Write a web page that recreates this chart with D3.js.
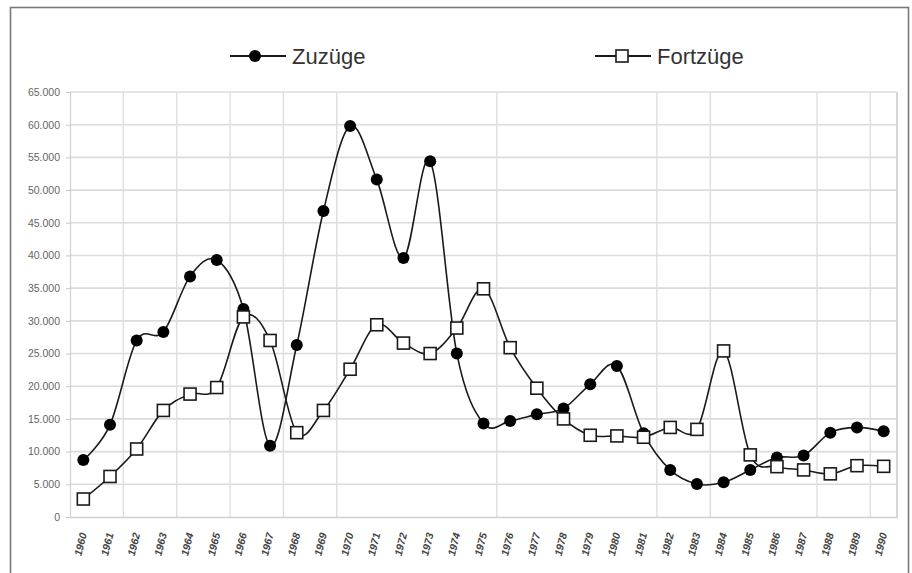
<!DOCTYPE html>
<html>
<head>
<meta charset="utf-8">
<script src="https://cdn.jsdelivr.net/npm/d3@7"></script>
<style>
  html, body { margin: 0; padding: 0; background: #fff; }
  svg { display: block; }
</style>
</head>
<body>
<svg id="chart" width="912" height="573"></svg>
<script>
// ---- data ----
const years = [1960,1961,1962,1963,1964,1965,1966,1967,1968,1969,1970,1971,1972,1973,1974,1975,
               1976,1977,1978,1979,1980,1981,1982,1983,1984,1985,1986,1987,1988,1989,1990];
const zuzuege = [8700,14100,27000,28300,36800,39300,31800,10900,26300,46800,59800,51600,39600,54400,25000,14300,
                 14700,15700,16600,20300,23100,12800,7200,5050,5300,7200,9100,9400,12900,13700,13100];
const fortzuege = [2750,6200,10400,16300,18800,19800,30600,27000,12900,16300,22600,29400,26600,25000,28900,34900,
                   25900,19700,15000,12500,12400,12200,13700,13400,25400,9500,7700,7200,6600,7850,7750];
const seriesNames = ["Zuzüge", "Fortzüge"];
const yTicks = [0,5000,10000,15000,20000,25000,30000,35000,40000,45000,50000,55000,60000,65000];
// vertical gridlines drawn after these years (visible ones in the original)
const vGridAfter = [1961,1963,1965,1967,1969,1975,1981,1983,1987,1989];

// ---- layout ----
const svg = d3.select("#chart");
const plot = {left: 70, right: 897, top: 92, bottom: 517};

const x = d3.scaleBand().domain(years).range([plot.left, plot.right]).paddingInner(0).paddingOuter(0);
const xc = d => x(d) + x.bandwidth() / 2;
const y = d3.scaleLinear().domain([0, 65000]).range([plot.bottom, plot.top]);

// outer frame
svg.append("rect").attr("x", 10.5).attr("y", 7.5).attr("width", 898).attr("height", 580)
  .attr("fill", "none").attr("stroke", "#7a7a7a").attr("stroke-width", 1.6);

// horizontal gridlines
svg.append("g").selectAll("line").data(yTicks.filter(d => d > 0)).join("line")
  .attr("x1", plot.left).attr("x2", plot.right)
  .attr("y1", d => y(d)).attr("y2", d => y(d))
  .attr("stroke", "#dcdcdc").attr("stroke-width", 1.6);

// vertical gridlines
svg.append("g").selectAll("line").data(vGridAfter).join("line")
  .attr("x1", d => x(d) + x.bandwidth()).attr("x2", d => x(d) + x.bandwidth())
  .attr("y1", plot.top).attr("y2", plot.bottom)
  .attr("stroke", "#dedede").attr("stroke-width", 1.4);

// right border of plot
svg.append("line").attr("x1", plot.right).attr("x2", plot.right)
  .attr("y1", plot.top).attr("y2", plot.bottom)
  .attr("stroke", "#d6d6d6").attr("stroke-width", 2);

// y axis
const yAxis = d3.axisLeft(y).tickValues(yTicks).tickSize(4).tickPadding(6)
  .tickFormat(d => d === 0 ? "0" : d3.format(",")(d).replace(/,/g, "."));
const gy = svg.append("g").attr("transform", `translate(${plot.left},0)`).call(yAxis);
gy.select(".domain").attr("stroke", "#d0d0d0").attr("stroke-width", 1.2);
gy.selectAll(".tick line").attr("stroke", "#c8c8c8");
gy.selectAll("text").attr("fill", "#666").style("font-family", "Liberation Sans, Arial, sans-serif")
  .style("font-size", "10.5px");

// x axis
const xAxis = d3.axisBottom(x).tickSize(0).tickPadding(0);
const gx = svg.append("g").attr("transform", `translate(0,${plot.bottom})`).call(xAxis);
gx.select(".domain").attr("stroke", "#cfcfcf").attr("stroke-width", 1.4);
gx.selectAll("text")
  .attr("fill", "#444")
  .style("font-family", "Liberation Sans, Arial, sans-serif")
  .style("font-size", "10.5px").style("font-weight", "bold").style("font-style", "italic")
  .attr("text-anchor", "end")
  .attr("dy", "0.35em")
  .attr("transform", "translate(0,16) rotate(-76)");

// lines
const line = d3.line().curve(d3.curveCardinal.tension(0));
const zPts = years.map((yr, i) => [xc(yr), y(zuzuege[i])]);
const fPts = years.map((yr, i) => [xc(yr), y(fortzuege[i])]);

svg.append("path").attr("d", line(zPts)).attr("fill", "none")
  .attr("stroke", "#1a1a1a").attr("stroke-width", 1.6);
svg.append("path").attr("d", line(fPts)).attr("fill", "none")
  .attr("stroke", "#1a1a1a").attr("stroke-width", 1.6);

// markers
svg.append("g").selectAll("circle").data(zPts).join("circle")
  .attr("cx", d => d[0]).attr("cy", d => d[1]).attr("r", 6)
  .attr("fill", "#000");
svg.append("g").selectAll("rect").data(fPts).join("rect")
  .attr("x", d => d[0] - 6).attr("y", d => d[1] - 6).attr("width", 12).attr("height", 12)
  .attr("fill", "#fff").attr("stroke", "#1a1a1a").attr("stroke-width", 1.6);

// legend
const legend = svg.append("g");
const lg = [
  {name: seriesNames[0], x0: 230, type: "circle"},
  {name: seriesNames[1], x0: 595, type: "square"}
];
lg.forEach(l => {
  const g = legend.append("g").attr("transform", `translate(${l.x0},56)`);
  g.append("line").attr("x1", 0).attr("x2", 56).attr("y1", 0).attr("y2", 0)
    .attr("stroke", "#1a1a1a").attr("stroke-width", 1.8);
  if (l.type === "circle") {
    g.append("circle").attr("cx", 25).attr("cy", 0).attr("r", 6).attr("fill", "#000");
  } else {
    g.append("rect").attr("x", 21).attr("y", -6).attr("width", 12).attr("height", 12)
      .attr("fill", "#fff").attr("stroke", "#1a1a1a").attr("stroke-width", 1.6);
  }
  g.append("text").attr("x", 62).attr("y", 0).attr("dy", "0.35em")
    .attr("fill", "#333").style("font-family", "Liberation Sans, Arial, sans-serif")
    .style("font-size", "22px").text(l.name);
});
</script>
</body>
</html>
